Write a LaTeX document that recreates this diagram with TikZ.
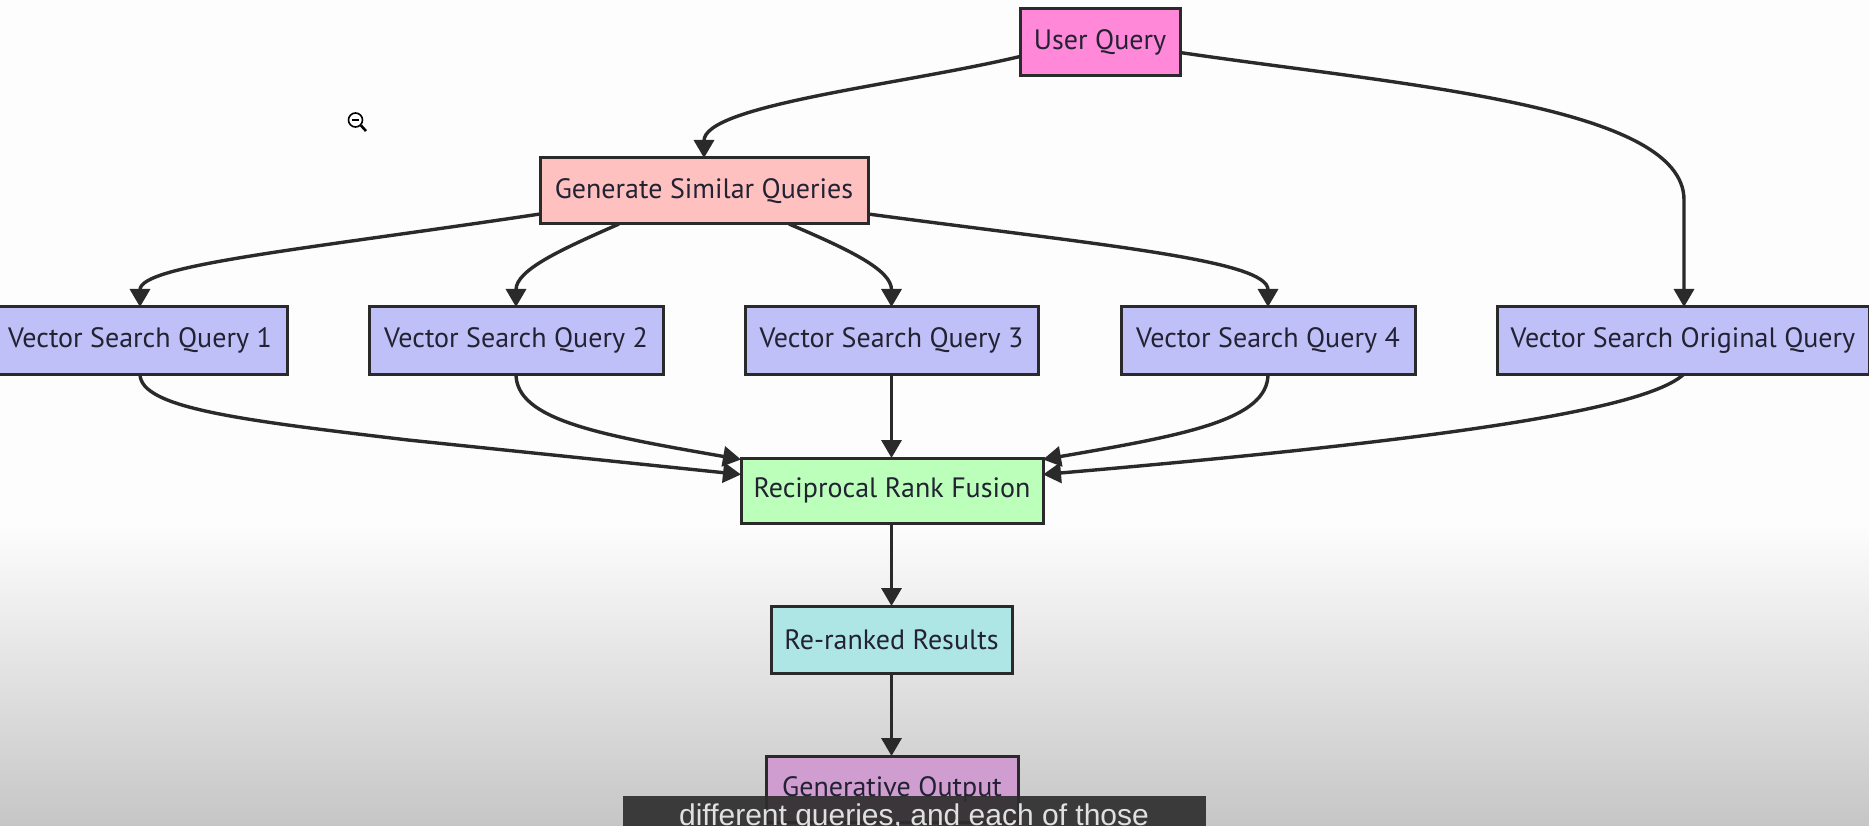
\documentclass[tikz,border=0pt]{standalone}
\usepackage{fontspec}
\setmainfont{PT Sans}
\newfontfamily\capfont{Liberation Sans}
\usetikzlibrary{arrows.meta}
\definecolor{pagebg}{HTML}{FDFDFD}
\definecolor{fadebg}{HTML}{C6C6C6}
\definecolor{edgecol}{HTML}{2A2A2A}
\definecolor{textcol}{HTML}{222233}
\definecolor{cuser}{HTML}{FF88D8}
\definecolor{cgen}{HTML}{FFC0C0}
\definecolor{cvec}{HTML}{C0C0F8}
\definecolor{crrf}{HTML}{BBFFBB}
\definecolor{crer}{HTML}{AEE6E6}
\definecolor{cout}{HTML}{CF9DCF}
\tikzset{
  flowbox/.style={draw=edgecol,line width=3pt,inner sep=0pt,outer sep=0pt,text=textcol,
    font=\fontsize{28}{30}\selectfont,anchor=center},
  conn/.style={draw=edgecol,line width=3.4pt,-{Triangle[length=18pt,width=20pt]}},
}
\begin{document}
\begin{tikzpicture}[x=1pt,y=-1pt]
\useasboundingbox (0,0) rectangle (1869,826);
\fill[pagebg] (0,0) rectangle (1869,526);
\shade[top color=pagebg,bottom color=fadebg] (0,525) rectangle (1869,826);
% nodes
\node[flowbox,fill=cuser,minimum width=160pt,minimum height=67pt] (user) at (1100,42.5) {User Query};
\node[flowbox,fill=cgen,minimum width=328pt,minimum height=66pt] (gen) at (704,191) {Generate Similar Queries};
\node[flowbox,fill=cvec,minimum width=294pt,minimum height=67pt] (v1) at (140,340.5) {Vector Search Query 1};
\node[flowbox,fill=cvec,minimum width=294pt,minimum height=67pt] (v2) at (516,340.5) {Vector Search Query 2};
\node[flowbox,fill=cvec,minimum width=293pt,minimum height=67pt] (v3) at (891.5,340.5) {Vector Search Query 3};
\node[flowbox,fill=cvec,minimum width=294pt,minimum height=67pt] (v4) at (1268,340.5) {Vector Search Query 4};
\node[flowbox,fill=cvec,minimum width=372pt,minimum height=67pt] (vo) at (1683,340.5) {Vector Search Original Query};
\node[flowbox,fill=crrf,minimum width=302pt,minimum height=65pt] (rrf) at (892,490.5) {Reciprocal Rank Fusion};
\node[flowbox,fill=crer,minimum width=241pt,minimum height=67pt] (rer) at (891.5,639.5) {Re-ranked Results};
\node[flowbox,fill=cout,minimum width=252pt,minimum height=66pt] (out) at (892,789) {Generative Output};
% connectors
\draw[conn] ([yshift=-14pt]user.west) .. controls (900,85) and (704,105) .. (gen.north);
\draw[conn] ([yshift=-10pt]user.east) .. controls (1400,85) and (1684,105) .. (1684,200) -- (vo.north -| 1684,307);
\draw[conn] ([yshift=-23pt]gen.west) .. controls (300,250) and (140,265) .. (v1.north);
\draw[conn] ([xshift=-85pt]gen.south) .. controls (560,250) and (516,270) .. (v2.north);
\draw[conn] ([xshift=85pt]gen.south) .. controls (850,250) and (891.5,270) .. (v3.north);
\draw[conn] ([yshift=-23pt]gen.east) .. controls (1100,245) and (1268,260) .. (v4.north);
\draw[conn] (v1.south) .. controls (140,408) and (240,420) .. (408,440) -- ([yshift=16pt]rrf.west);
\draw[conn] (v2.south) .. controls (516,420) and (600,435) .. ([yshift=31pt]rrf.west);
\draw[conn] (v3.south) -- (rrf.north -| v3.south);
\draw[conn] (v4.south) .. controls (1268,420) and (1185,435) .. ([yshift=31pt]rrf.east);
\draw[conn] (vo.south -| 1684,374) .. controls (1645,411) and (1430,441) .. ([yshift=16pt]rrf.east);
\draw[conn] (rrf.south -| rer.north) -- (rer.north);
\draw[conn] (rer.south) -- (out.north -| rer.south);
% cursor
\draw[black,line width=1.6pt,fill=white] (355.5,120) circle (7pt);
\draw[black,line width=1.6pt] (352,120) -- (359,120);
\draw[black,line width=2.6pt] (361,125.5) -- (366,131);
% caption
\fill[black!82,fill opacity=.92] (623,796) rectangle (1206,826);
\node[anchor=base,inner sep=0pt,text=white!88!black,font=\capfont\fontsize{30}{32}\selectfont] (caption) at (914,825) {different queries, and each of those};
\end{tikzpicture}
\end{document}
